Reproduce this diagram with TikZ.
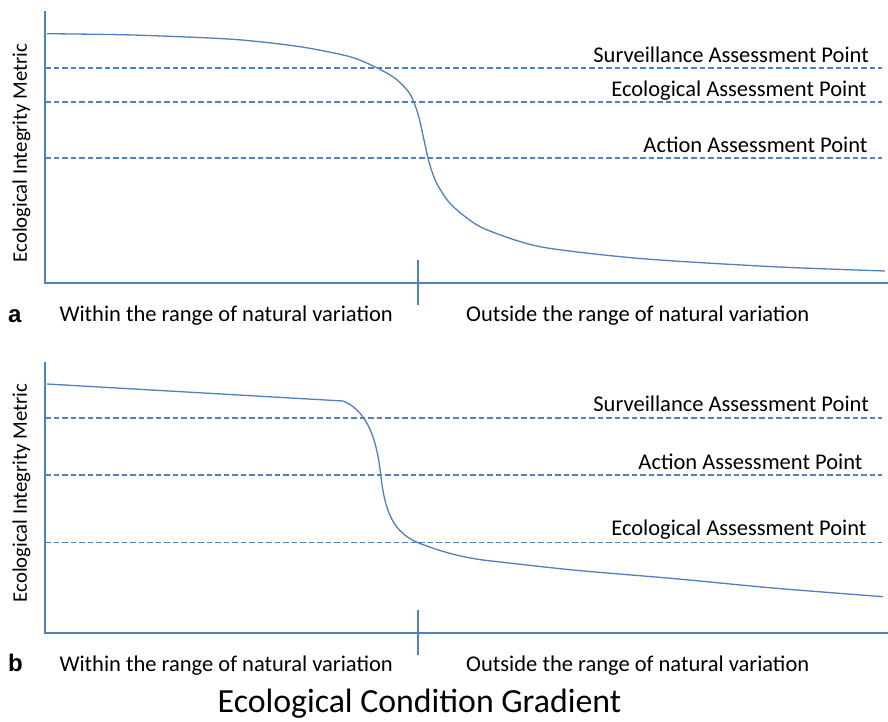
\documentclass[tikz,border=0pt]{standalone}
\usepackage{fontspec}
\setmainfont{Carlito}
\newfontfamily\panelfont{Liberation Sans}
\usetikzlibrary{positioning}
\definecolor{axisblue}{HTML}{4F81BD}
\begin{document}
\begin{tikzpicture}[x=1pt,y=-1pt,
  axis/.style={axisblue,line width=2pt},
  level/.style={axisblue,line width=1.6pt,dash pattern=on 5.5pt off 3pt},
  curve/.style={axisblue,line width=1.3pt},
  lbl/.style={font=\fontsize{22.5}{24}\selectfont,inner sep=0pt},
  panel/.style={font=\panelfont\bfseries\fontsize{24}{26}\selectfont,inner sep=0pt}]
\useasboundingbox (0,0) rectangle (888,721);
\fill[white] (0,0) rectangle (888,721);
% panel a
\draw[axis] (45,11) -- (45,283) -- (888,283);
\draw[axis] (417.7,260) -- (417.7,305);
\draw[level] (45,67.7) -- (882,67.7);
\draw[level] (45,101.7) -- (882,101.7);
\draw[level] (45,158) -- (882,158);
\draw[curve] plot[smooth,tension=0.45] coordinates {(47,33.7) (133,35) (233,39.3) (300,46.7) (350,56.7) (376.7,67.7) (396,79) (410,94) (418,114) (424,140) (429,162) (436,182) (448,201) (463,215) (485,229) (540,246.7) (640,258.5) (773,266.7) (885,271)};
\node[lbl,anchor=base east] (survA) at (869,62.7) {Surveillance Assessment Point};
\node[lbl,anchor=base east] (ecoA) at (866.7,96) {Ecological Assessment Point};
\node[lbl,anchor=base east] (actA) at (867.7,152.3) {Action Assessment Point};
\node[lbl,font=\fontsize{20.7}{22}\selectfont,anchor=base,rotate=90] (yA) at (27,153) {Ecological Integrity Metric};
\node[panel,anchor=base west] (tagA) at (8,322) {a};
\node[lbl,anchor=base west] (inA) at (59.3,321.7) {Within the range of natural variation};
\node[lbl,anchor=base west] (outA) at (466,321.7) {Outside the range of natural variation};
% panel b
\draw[axis] (45,361.7) -- (45,632.7) -- (888,632.7);
\draw[axis] (417.7,610) -- (417.7,655);
\draw[level] (45,418) -- (882,418);
\draw[level] (45,474.7) -- (882,474.7);
\draw[level] (45,542.3) -- (882,542.3);
\draw[curve] (47,384) -- (343.3,401) .. controls (364,410) and (376,432) .. (380.7,474.7) .. controls (385,512) and (393,533) .. (420,543.5) .. controls (445,553) and (462,557) .. (483,560) plot[smooth,tension=0.45] coordinates {(483,560) (573,570) (673,578.5) (773,588) (883,596.7)};
\node[lbl,anchor=base east] (survB) at (869,411.7) {Surveillance Assessment Point};
\node[lbl,anchor=base east] (actB) at (862.7,469) {Action Assessment Point};
\node[lbl,anchor=base east] (ecoB) at (866.7,535) {Ecological Assessment Point};
\node[lbl,font=\fontsize{20.7}{22}\selectfont,anchor=base,rotate=90] (yB) at (27,493) {Ecological Integrity Metric};
\node[panel,anchor=base west] (tagB) at (8,671.7) {b};
\node[lbl,anchor=base west] (inB) at (59.3,671.7) {Within the range of natural variation};
\node[lbl,anchor=base west] (outB) at (466,671.7) {Outside the range of natural variation};
\node[font=\fontsize{33.8}{36}\selectfont,inner sep=0pt,anchor=base] (xtitle) at (419.5,712.5) {Ecological Condition Gradient};
\end{tikzpicture}
\end{document}
